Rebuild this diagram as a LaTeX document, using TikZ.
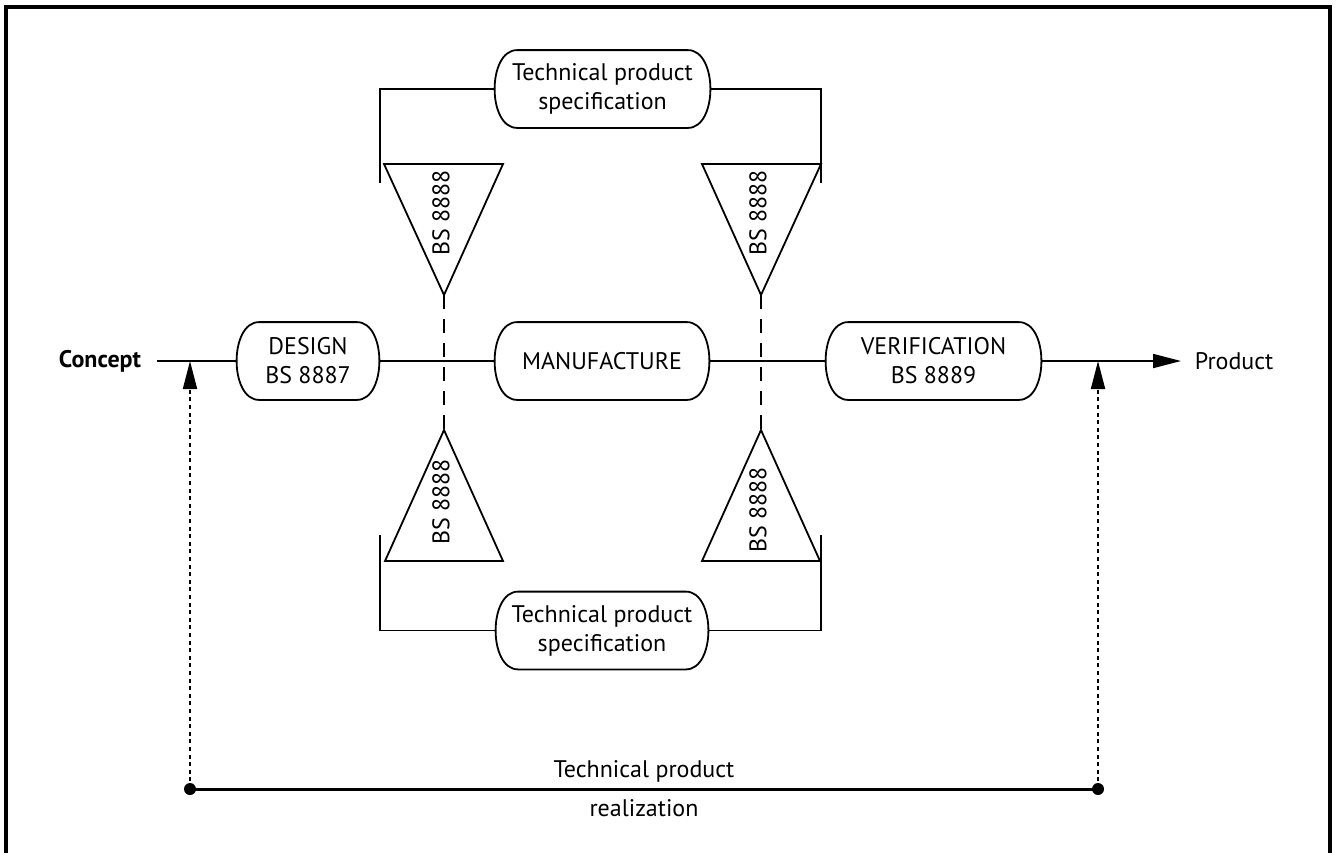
\documentclass[tikz,border=0pt]{standalone}
\usepackage{fontspec}
\setmainfont{PT Sans}
\usetikzlibrary{arrows.meta}
\newcommand\pillpath[1]{\draw ([xshift=11pt]#1.north west) -- ([xshift=-11pt]#1.north east) .. controls ([xshift=4pt]#1.north east) and ([xshift=4pt]#1.south east) .. ([xshift=-11pt]#1.south east) -- ([xshift=11pt]#1.south west) .. controls ([xshift=-4pt]#1.south west) and ([xshift=-4pt]#1.north west) .. cycle;}
\begin{document}
\begin{tikzpicture}[x=0.5pt,y=-0.5pt, line width=0.9pt,
  font=\fontsize{12}{14.5}\selectfont,
  box/.style={draw=none, inner sep=0pt, minimum height=38pt, align=center},
  lbl/.style={inner sep=0pt, align=center},
  tri/.style={line width=0.9pt, line join=miter},
  bsl/.style={rotate=90, inner sep=0pt},
  dashline/.style={dash pattern=on 7pt off 5pt},
  dotline/.style={dash pattern=on 2pt off 1.8pt},
  tip/.style={-{Triangle[length=14pt,width=7pt]}},
  ]
\useasboundingbox (0,0) rectangle (1336,852);
\draw[line width=1.6pt] (6,870) -- (6,7) -- (1330,7) -- (1330,870);

% main boxes
\node[box, minimum width=70pt] (design) at (308,361) {DESIGN\\BS 8887};
\node[box, minimum width=106pt] (manuf) at (602,361) {MANUFACTURE};
\node[box, minimum width=106.5pt] (verif) at (933.5,361) {VERIFICATION\\BS 8889};
\node[box, minimum width=106.5pt] (specT) at (602.5,89) {Technical product\\specification};
\node[box, minimum width=105pt] (specB) at (602,630.5) {Technical product\\specification};
\pillpath{design}
\pillpath{manuf}
\pillpath{verif}
\pillpath{specT}
\pillpath{specB}

% end labels
\node[lbl, font=\fontsize{12}{14.5}\selectfont\bfseries] (concept) at (100,361) {Concept};
\node[lbl, anchor=west] (product) at (1194,361) {Product};

% main line
\coordinate (cs) at (157,361);
\coordinate (pe) at (1181,361);
\draw (cs) -- (design.west);
\draw (design.east) -- (manuf.west);
\draw (manuf.east) -- (verif.west);
\draw[tip] (verif.east) -- (pe);

% triangles
\coordinate (tl1) at (384,164); \coordinate (tl2) at (503,164); \coordinate (tla) at (444,295);
\coordinate (tr1) at (702,164); \coordinate (tr2) at (821,164); \coordinate (tra) at (761,295);
\coordinate (bl1) at (385,561); \coordinate (bl2) at (503,561); \coordinate (bla) at (444,430);
\coordinate (br1) at (702,561); \coordinate (br2) at (820,561); \coordinate (bra) at (761,430);
\draw[tri] (tl1) -- (tl2) -- (tla) -- cycle;
\draw[tri] (tr1) -- (tr2) -- (tra) -- cycle;
\draw[tri] (bl1) -- (bl2) -- (bla) -- cycle;
\draw[tri] (br1) -- (br2) -- (bra) -- cycle;
\node[bsl] (bstl) at (441,213) {BS 8888};
\node[bsl] (bstr) at (758,213) {BS 8888};
\node[bsl] (bsbl) at (441,502) {BS 8888};
\node[bsl] (bsbr) at (758,510) {BS 8888};

% dashed links
\draw[dashline] (tla) -- (bla);
\draw[dashline] (tra) -- (bra);

% brackets
\coordinate (btl) at (380,183); \coordinate (btr) at (821,183);
\coordinate (bbl) at (380,535); \coordinate (bbr) at (821,535);
\draw (btl) |- (specT.west);
\draw (specT.east) -| (btr);
\draw (bbl) |- (specB.west);
\draw (specB.east) -| (bbr);

% realization
\coordinate (rl) at (190,789); \coordinate (rr) at (1098,789);
\coordinate (al) at (190,361); \coordinate (ar) at (1098,361);
\draw[dotline, tip] (rl) -- (al);
\draw[dotline, tip] (rr) -- (ar);
\draw[line width=1.5pt] (rl) -- (rr);
\fill (rl) circle (3pt);
\fill (rr) circle (3pt);
\node[lbl] (realT) at (644,771) {Technical product};
\node[lbl] (realB) at (644,808) {realization};
\end{tikzpicture}
\end{document}
